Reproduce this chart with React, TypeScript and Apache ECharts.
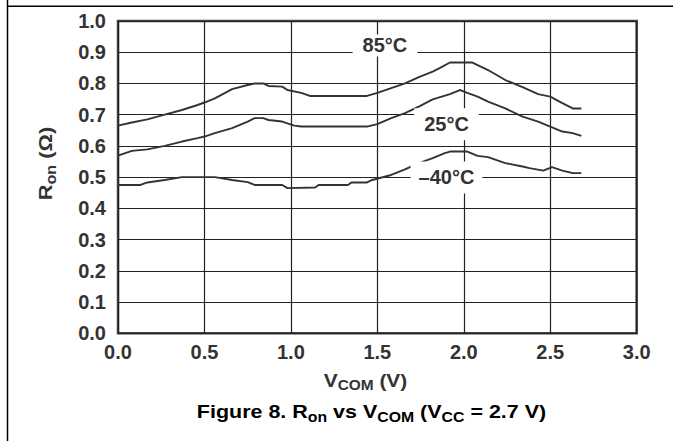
import React, { useEffect, useRef } from "react";
import * as echarts from "echarts";

// ---- data ----
const vcom85 = [0, 0.08, 0.17, 0.27, 0.37, 0.46, 0.5, 0.56, 0.66, 0.75, 0.79, 0.84, 0.87, 0.95, 0.98, 1.06, 1.11, 1.44, 1.5, 1.58, 1.66, 1.74, 1.82, 1.86, 1.92, 2.05, 2.14, 2.24, 2.34, 2.43, 2.5, 2.57, 2.63, 2.68];
const ron85 = [0.665, 0.675, 0.685, 0.7, 0.715, 0.731, 0.739, 0.752, 0.782, 0.795, 0.8, 0.8, 0.792, 0.79, 0.779, 0.77, 0.76, 0.76, 0.77, 0.785, 0.8, 0.82, 0.838, 0.849, 0.867, 0.867, 0.843, 0.811, 0.788, 0.766, 0.758, 0.737, 0.72, 0.72];

const vcom25 = [0, 0.08, 0.17, 0.27, 0.37, 0.46, 0.5, 0.56, 0.66, 0.75, 0.79, 0.84, 0.87, 0.95, 0.98, 1.02, 1.06, 1.44, 1.5, 1.58, 1.66, 1.74, 1.82, 1.92, 1.97, 1.98, 2.02, 2.08, 2.14, 2.24, 2.34, 2.43, 2.5, 2.57, 2.63, 2.68];
const ron25 = [0.569, 0.584, 0.589, 0.6, 0.614, 0.625, 0.63, 0.641, 0.657, 0.678, 0.689, 0.689, 0.683, 0.678, 0.672, 0.665, 0.662, 0.662, 0.67, 0.689, 0.705, 0.726, 0.749, 0.766, 0.777, 0.779, 0.77, 0.758, 0.742, 0.72, 0.694, 0.678, 0.662, 0.646, 0.641, 0.632];

const vcomM40 = [0, 0.13, 0.17, 0.27, 0.37, 0.56, 0.66, 0.75, 0.79, 0.95, 0.98, 1.14, 1.16, 1.33, 1.35, 1.44, 1.47, 1.58, 1.66, 1.74, 1.82, 1.89, 1.92, 2.02, 2.08, 2.14, 2.24, 2.34, 2.38, 2.46, 2.51, 2.57, 2.63, 2.68];
const ronM40 = [0.475, 0.475, 0.483, 0.491, 0.5, 0.5, 0.491, 0.484, 0.475, 0.475, 0.465, 0.467, 0.475, 0.475, 0.483, 0.483, 0.491, 0.507, 0.525, 0.545, 0.561, 0.577, 0.582, 0.582, 0.568, 0.564, 0.545, 0.534, 0.529, 0.521, 0.532, 0.521, 0.513, 0.513];

const seriesNames = ["85°C", "25°C", "–40°C"];
const labelAt = [
  [1.544, 0.9216],
  [1.9, 0.669],
  [1.9, 0.499],
];
const labelPadding = [
  [1, 10],
  [6, 10],
  [6, 8],
];

const FONT = '"Liberation Sans", Arial, Helvetica, sans-serif';

function zip(xs: number[], ys: number[]) {
  return xs.map((x, i) => [x, ys[i]]);
}

const richStyles = (color: string, main: number, sub: number) => ({
  m: { fontSize: main, fontWeight: "bold", fontFamily: FONT, fill: color, lineHeight: 25, verticalAlign: "middle" },
  s: { fontSize: sub, fontWeight: "bold", fontFamily: FONT, fill: color, lineHeight: sub, verticalAlign: "bottom" },
});

export default function App() {
  const ref = useRef<HTMLDivElement>(null);
  useEffect(() => {
    if (!ref.current) return;
    const chart = echarts.init(ref.current, undefined, { renderer: "svg" });
    const datasets = [zip(vcom85, ron85), zip(vcom25, ron25), zip(vcomM40, ronM40)];
    const axisLabel = {
      color: "#333",
      fontSize: 20,
      fontWeight: "bold",
      fontFamily: FONT,
      formatter: (v: number) => v.toFixed(1),
    };
    const option: any = {
      animation: false,
      backgroundColor: "#fff",
      grid: {
        left: 118,
        top: 21,
        width: 518.7,
        height: 312.3,
        show: true,
        borderColor: "#444",
        borderWidth: 2.5,
        backgroundColor: "transparent",
      },
      xAxis: {
        type: "value",
        min: 0,
        max: 3,
        interval: 0.5,
        axisLine: { show: false },
        axisTick: { show: false },
        splitLine: { show: true, lineStyle: { color: "#222", width: 1.2 } },
        axisLabel: { ...axisLabel, margin: 9 },
      },
      yAxis: {
        type: "value",
        min: 0,
        max: 1,
        interval: 0.1,
        axisLine: { show: false },
        axisTick: { show: false },
        splitLine: { show: true, lineStyle: { color: "#222", width: 1.2 } },
        axisLabel: { ...axisLabel, margin: 12 },
      },
      series: datasets.map((d, i) => ({
        type: "line",
        name: seriesNames[i],
        data: d,
        showSymbol: false,
        symbol: "none",
        lineStyle: { color: "#333", width: 1.9 },
        itemStyle: { color: "#333" },
        markPoint: {
          symbol: "rect",
          symbolSize: 1,
          silent: true,
          itemStyle: { color: "rgba(0,0,0,0)" },
          label: {
            show: true,
            position: "inside",
            formatter: "{b}",
            fontSize: 20,
            fontWeight: "bold",
            fontFamily: FONT,
            color: "#333",
            backgroundColor: "#fff",
            padding: labelPadding[i],
          },
          data: [{ name: seriesNames[i], coord: labelAt[i] }],
        },
      })),
      graphic: [
        {
          type: "line",
          shape: { x1: 7.5, y1: 0, x2: 7.5, y2: 441 },
          style: { stroke: "#000", lineWidth: 1.5 },
        },
        {
          type: "line",
          shape: { x1: 7, y1: 6.3, x2: 673, y2: 6.3 },
          style: { stroke: "#000", lineWidth: 1.4 },
        },
        {
          type: "text",
          x: 365.5,
          y: 380,
          scaleX: 1.1,
          style: {
            text: "{m|V}{s|COM}{m| (V)}",
            align: "center",
            verticalAlign: "middle",
            fill: "#333",
            fontSize: 19,
            fontWeight: "bold",
            fontFamily: FONT,
            rich: richStyles("#333", 19, 14),
          },
        },
        {
          type: "text",
          x: 371.5,
          y: 411,
          scaleX: 1.13,
          style: {
            text: "{m|Figure 8. R}{s|on}{m| vs V}{s|COM}{m| (V}{s|CC}{m| = 2.7 V)}",
            align: "center",
            verticalAlign: "middle",
            fill: "#000",
            fontSize: 19,
            fontWeight: "bold",
            fontFamily: FONT,
            rich: richStyles("#000", 19, 14),
          },
        },
        {
          type: "text",
          x: 45,
          y: 163.5,
          rotation: Math.PI / 2,
          scaleX: 1.15,
          style: {
            text: "{m|R}{s|on}{m| (Ω)}",
            align: "center",
            verticalAlign: "middle",
            fill: "#333",
            fontSize: 19,
            fontWeight: "bold",
            fontFamily: FONT,
            rich: richStyles("#333", 19, 14),
          },
        },
      ],
    };
    chart.setOption(option);
    return () => chart.dispose();
  }, []);
  return (
    <div
      ref={ref}
      style={{ position: "absolute", left: 0, top: 0, width: 673, height: 441, background: "#fff" }}
    />
  );
}
